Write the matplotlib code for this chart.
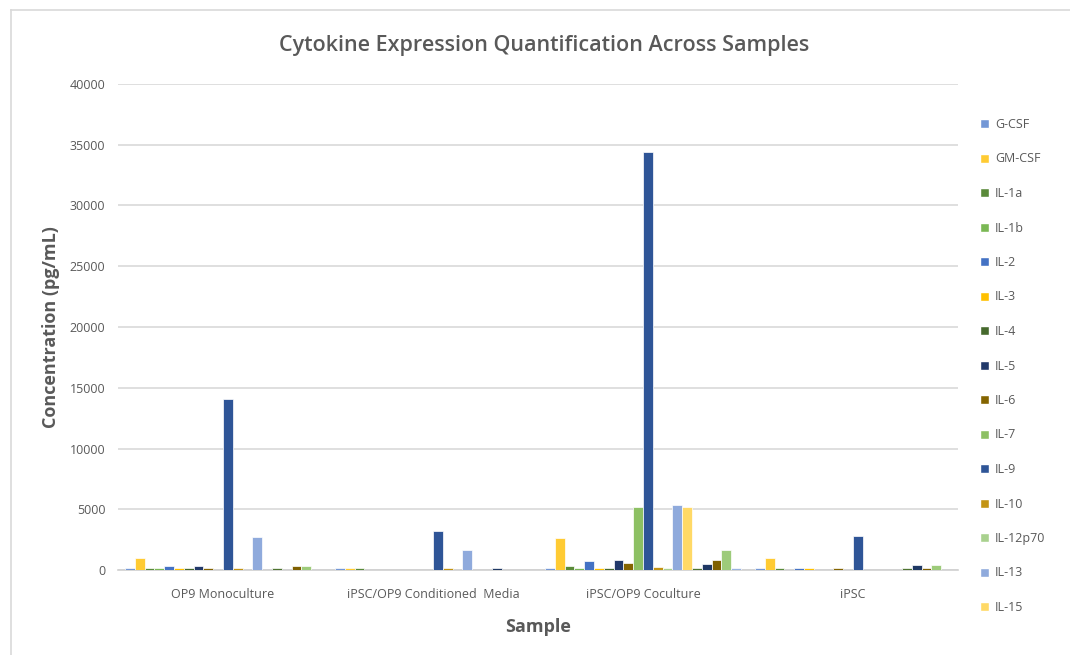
import matplotlib.pyplot as plt
import numpy as np
from matplotlib.patches import Patch
from matplotlib.lines import Line2D

# Proben (Kategorien)
samples = ['OP9 Monoculture', 'iPSC/OP9 Conditioned  Media', 'iPSC/OP9 Coculture', 'iPSC']

# Zytokine (nur die ersten 15 erscheinen in der Legende)
cytokines = ['G-CSF', 'GM-CSF', 'IL-1a', 'IL-1b', 'IL-2', 'IL-3', 'IL-4', 'IL-5', 'IL-6',
             'IL-7', 'IL-9', 'IL-10', 'IL-12p70', 'IL-13', 'IL-15',
             'IL-17', 'IP-10', 'KC', 'LIF', 'LIX']

colors = ['#7397D6', '#FFCB33', '#5A8A3A', '#7AB854', '#4472C4', '#FFC000', '#46692D',
          '#22396A', '#846400', '#8DC063', '#2F5597', '#C39414', '#A9D18E', '#8FAADC',
          '#FFD966', '#4E7330', '#1F3864', '#7F6000', '#9DCB7A', '#9AB3E0']

# Konzentrationen (pg/mL) je Probe: OP9 Mono, Conditioned Media, Coculture, iPSC
values = {
    'G-CSF':    [180, 180, 180, 180],
    'GM-CSF':   [990, 180, 2650, 960],
    'IL-1a':    [180, 180, 300, 180],
    'IL-1b':    [180, 0, 180, 0],
    'IL-2':     [290, 0, 710, 180],
    'IL-3':     [180, 0, 180, 180],
    'IL-4':     [180, 0, 180, 0],
    'IL-5':     [290, 0, 820, 0],
    'IL-6':     [180, 0, 570, 180],
    'IL-7':     [0, 0, 5170, 0],
    'IL-9':     [14100, 3240, 34400, 2800],
    'IL-10':    [180, 180, 270, 0],
    'IL-12p70': [0, 0, 180, 0],
    'IL-13':    [2690, 1670, 5360, 0],
    'IL-15':    [0, 0, 5200, 0],
    'IL-17':    [180, 0, 180, 180],
    'IP-10':    [0, 180, 470, 410],
    'KC':       [290, 0, 820, 180],
    'LIF':      [290, 0, 1670, 410],
    'LIX':      [0, 0, 180, 0],
}

grey = '#595959'
fig = plt.figure(figsize=(10.7, 6.55), dpi=100)
ax = fig.add_axes([118 / 1070, 1 - 570 / 655, 840 / 1070, 486 / 655])

x = np.arange(len(samples))
slot = 9.8 / 210
for i, name in enumerate(cytokines):
    ax.bar(x + (i - 9.5) * slot, values[name], width=slot, color=colors[i],
           edgecolor='white', linewidth=0.5, zorder=3)

ax.set_xlim(-0.5, 3.5)
ax.set_ylim(0, 40000)
ax.set_yticks(range(0, 40001, 5000))
ax.set_xticks(x)
ax.set_xticklabels(samples)
ax.yaxis.grid(True, color='#D9D9D9', linewidth=1.2, zorder=0)
for s in ['top', 'right', 'left']:
    ax.spines[s].set_visible(False)
ax.spines['bottom'].set_color('#D0D0D0')
ax.spines['bottom'].set_linewidth(1.2)
ax.tick_params(length=0, labelsize=9, labelcolor=grey)
ax.tick_params(axis='y', pad=9)
ax.tick_params(axis='x', pad=13)
for t in ax.get_xticklabels() + ax.get_yticklabels():
    t.set_fontfamily('Open Sans')

ax.set_ylabel('Concentration (pg/mL)', fontsize=13, fontweight='bold', color=grey,
              fontfamily='Open Sans', labelpad=7)
ax.set_xlabel('Sample', fontsize=13, fontweight='bold', color=grey,
              fontfamily='Open Sans', labelpad=12)
fig.text(544 / 1070, 1 - 45 / 655, 'Cytokine Expression Quantification Across Samples',
         ha='center', va='center', fontsize=15.5, fontweight='semibold', color=grey,
         fontfamily='Open Sans')

# Legende (abgeschnitten nach IL-15 wie im Original)
handles = [Patch(facecolor=colors[i], edgecolor='white') for i in range(15)]
leg = fig.legend(handles, cytokines[:15], loc='upper left',
                 bbox_to_anchor=(980 / 1070, 1 - 118 / 655), frameon=False,
                 fontsize=9, handlelength=0.7, handleheight=0.7, handletextpad=0.5,
                 labelspacing=1.72, borderaxespad=0, borderpad=0)
for t in leg.get_texts():
    t.set_color(grey)
    t.set_fontfamily('Open Sans')

# Rahmen des Diagrammbereichs (oben und links sichtbar)
fig.add_artist(Line2D([11 / 1070, 1], [1 - 10 / 655] * 2, color='#D9D9D9', linewidth=1.2))
fig.add_artist(Line2D([11 / 1070] * 2, [0, 1 - 10 / 655], color='#D9D9D9', linewidth=1.2))

plt.savefig('out.png', dpi=100)
